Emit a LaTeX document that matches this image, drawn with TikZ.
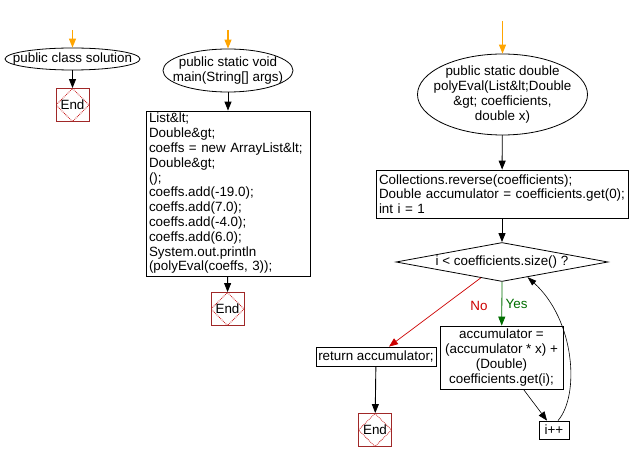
\documentclass[tikz,border=0pt]{standalone}
\usepackage{fontspec}
\setmainfont{Liberation Sans}
\usetikzlibrary{arrows.meta,calc,shapes.geometric}
\definecolor{startorange}{RGB}{255,165,0}
\definecolor{endred}{RGB}{160,40,40}
\definecolor{dotred}{RGB}{200,30,30}
\definecolor{yesgreen}{RGB}{0,110,0}
\definecolor{nored}{RGB}{204,0,0}
\tikzset{
  lab/.style={font=\fontsize{13.4}{14.8}\selectfont, align=center},
  flow/.style={-{Triangle[length=9pt,width=7pt]}, line width=0.9pt, draw=black},
  startflow/.style={-{Triangle[length=9pt,width=7pt]}, line width=1.1pt, draw=startorange},
  yesflow/.style={-{Triangle[length=9pt,width=7pt]}, line width=0.8pt, draw=yesgreen},
  noflow/.style={-{Triangle[length=9pt,width=7pt]}, line width=0.7pt, draw=nored},
  loopflow/.style={-{Triangle[length=9pt,width=6pt]}, line width=0.6pt, draw=black},
  termnode/.style={ellipse, draw, line width=0.8pt, inner sep=0pt},
  procbox/.style={rectangle, draw, line width=0.8pt, inner xsep=3pt, inner ysep=2pt,
    font=\fontsize{13.4}{14.8}\selectfont},
  decision/.style={diamond, draw, line width=0.8pt, inner sep=0pt, aspect=5.4,
    font=\fontsize{13.4}{14.8}\selectfont},
  endbox/.style={rectangle, draw=endred, line width=0.9pt, minimum width=33pt,
    minimum height=33pt, inner sep=0pt, font=\fontsize{13.4}{14.8}\selectfont,
    path picture={\draw[dotred, densely dotted, line width=0.8pt]
      (path picture bounding box.north) -- (path picture bounding box.east)
      -- (path picture bounding box.south) -- (path picture bounding box.west) -- cycle;}},
}

\begin{document}
\begin{tikzpicture}[x=1pt,y=-1pt]
  \useasboundingbox (0,0) rectangle (629,462);

  % Class entry on the left.
  \coordinate (clsIn) at (72.5,30);
  \node[termnode, minimum width=135pt, minimum height=22pt,
    label={[lab]center:{public class solution}}] (cls) at (72.5,59) {};
  \node[endbox] (clsEnd) at (72.5,105) {End};
  \draw[startflow] (clsIn) -- (cls);
  \draw[flow] (cls) -- (clsEnd);

  % main method.
  \coordinate (mainIn) at (228,30);
  \node[termnode, minimum width=130pt, minimum height=43pt,
    label={[lab]center:{public static void\\main(String[] args)}}] (main) at (228,70.5) {};
  \node[procbox, text width=158pt, align=left, minimum height=165pt] (mainBody) at (228,193.5)
    {List\&lt;\\Double\&gt;\\coeffs = new ArrayList\&lt;\\Double\&gt;\\();\\coeffs.add(-19.0);\\coeffs.add(7.0);\\coeffs.add(-4.0);\\coeffs.add(6.0);\\System.out.println\\(polyEval(coeffs, 3));};
  \node[endbox] (mainEnd) at (227.5,309) {End};
  \draw[startflow] (mainIn) -- (main);
  \draw[flow] (main) -- (mainBody);
  \draw[flow] (mainBody) -- (mainEnd);

  % polyEval method.
  \coordinate (polyIn) at (502.5,21);
  \node[termnode, minimum width=170pt, minimum height=81pt,
    label={[lab]center:{public static double\\polyEval(List\&lt;Double\\\&gt; coefficients,\\double x)}}] (poly) at (502.5,94.5) {};
  \node[procbox, text width=246pt, align=left, minimum height=48pt] (init) at (502,194)
    {Collections.reverse(coefficients);\\Double accumulator = coefficients.get(0);\\int i = 1};
  \node[decision, minimum width=212pt, minimum height=39pt] (loopTest) at (502,262)
    {i < coefficients.size() ?};
  \node[procbox, minimum width=123pt, minimum height=63pt, align=center] (accum) at (501.5,357.5)
    {accumulator =\\(accumulator * x) +\\(Double)\\coefficients.get(i);};
  \node[procbox, minimum width=30pt, minimum height=18pt, inner sep=0pt] (incr) at (554,430) {i++};
  \node[procbox, minimum width=120pt, minimum height=19pt, inner sep=0pt] (ret) at (376,356.5)
    {return accumulator;};
  \node[endbox] (retEnd) at (375,430) {End};

  \draw[startflow] (polyIn) -- (poly);
  \draw[flow] (poly) -- (init);
  \draw[flow] (init) -- (loopTest);
  \draw[yesflow] (loopTest.south) -- node[right, lab, text=yesgreen] {Yes} (accum);
  \draw[noflow] ($(loopTest.south)!0.2!(loopTest.west)$) -- ($(ret.north)+(13,0)$);
  \node[lab, text=nored] (noLab) at ($(loopTest.south)+(-23,24)$) {No};
  \draw[flow, line width=0.6pt] ($(accum.south)+(22,0)$) -- ($(incr.north)+(-7,0)$);
  \draw[loopflow] ($(incr.north)+(4,0)$) .. controls (580,395) and (575,320) ..
    ($(loopTest.south)!0.24!(loopTest.east)$);
  \draw[flow] (ret) -- (retEnd);

\end{tikzpicture}
\end{document}
